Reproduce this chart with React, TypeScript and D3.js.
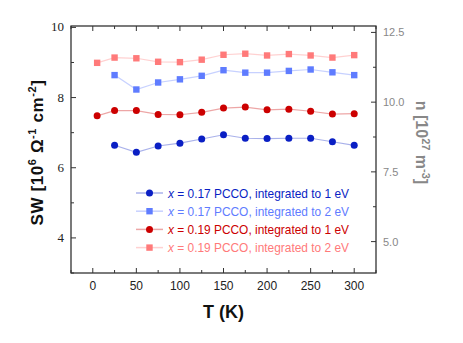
import React from "react";
import * as d3 from "d3";

const temps = [5, 25, 50, 75, 100, 125, 150, 175, 200, 225, 250, 275, 300];
const temps17 = [25, 50, 75, 100, 125, 150, 175, 200, 225, 250, 275, 300];

const sw17_1eV = [6.64, 6.44, 6.62, 6.7, 6.82, 6.94, 6.84, 6.83, 6.84, 6.84, 6.74, 6.64];
const sw17_2eV = [8.64, 8.23, 8.43, 8.52, 8.62, 8.78, 8.71, 8.71, 8.76, 8.8, 8.72, 8.64];
const sw19_1eV = [7.48, 7.63, 7.63, 7.52, 7.51, 7.58, 7.7, 7.73, 7.65, 7.67, 7.61, 7.53, 7.54];
const sw19_2eV = [8.99, 9.14, 9.12, 9.02, 9.01, 9.08, 9.22, 9.25, 9.2, 9.24, 9.2, 9.14, 9.21];

const xTicks = [0, 50, 100, 150, 200, 250, 300];
const leftTicks = [4, 6, 8, 10];
const rightTicks = [5.0, 7.5, 10.0, 12.5];

type Series = {
  x: string;
  eV: string;
  temps: number[];
  values: number[];
  color: string;
  shape: "circle" | "square";
};

const series: Series[] = [
  { x: "0.17", eV: "1", temps: temps17, values: sw17_1eV, color: "#0a1fc4", shape: "circle" },
  { x: "0.17", eV: "2", temps: temps17, values: sw17_2eV, color: "#5f7cff", shape: "square" },
  { x: "0.19", eV: "1", temps: temps, values: sw19_1eV, color: "#cc0000", shape: "circle" },
  { x: "0.19", eV: "2", temps: temps, values: sw19_2eV, color: "#ff7a7a", shape: "square" },
];

const width = 463;
const height = 343;
const margin = { top: 26, right: 87, bottom: 70, left: 71 };

const Marker = ({ s, cx, cy }: { s: Series; cx: number; cy: number }) =>
  s.shape === "circle" ? (
    <circle cx={cx} cy={cy} r={3.5} fill={s.color} />
  ) : (
    <rect x={cx - 3.2} y={cy - 3.2} width={6.4} height={6.4} fill={s.color} />
  );

const App = () => {
  const innerWidth = width - margin.left - margin.right;
  const innerHeight = height - margin.top - margin.bottom;

  const xScale = d3.scaleLinear().domain([-25, 325]).range([0, innerWidth]);
  const yScale = d3.scaleLinear().domain([3, 10.04]).range([innerHeight, 0]);
  const y2Scale = d3.scaleLinear().domain([3.874, 12.73]).range([innerHeight, 0]);

  const line = d3
    .line<[number, number]>()
    .x((d) => xScale(d[0]))
    .y((d) => yScale(d[1]));

  const xMinor = d3.range(-25, 326, 25);
  const leftMinor = d3.range(3, 10.01, 1);
  const rightMinor = d3.range(5, 12.6, 1.25);
  const tickColor = "#333";

  return (
    <svg width={width} height={height} style={{ position: "absolute", left: 0, top: 0 }}>
      <g transform={`translate(${margin.left},${margin.top})`}>
        {/* data lines */}
        {series.map((s, i) => (
          <path
            key={"l" + i}
            d={line(s.temps.map((t, j) => [t, s.values[j]] as [number, number])) || ""}
            fill="none"
            stroke={s.color}
            strokeOpacity={0.35}
            strokeWidth={1.2}
          />
        ))}
        {/* markers */}
        {series.map((s, i) => (
          <g key={"m" + i}>
            {s.temps.map((t, j) => (
              <Marker key={j} s={s} cx={xScale(t)} cy={yScale(s.values[j])} />
            ))}
          </g>
        ))}

        {/* frame */}
        <rect x={0} y={0} width={innerWidth} height={innerHeight} fill="none" stroke="#222" strokeWidth={1.2} />

        {/* x ticks */}
        {xMinor.map((t) => (
          <g key={"xt" + t} transform={`translate(${xScale(t)},0)`}>
            <line y1={innerHeight} y2={innerHeight - (t % 50 === 0 ? 5 : 3)} stroke={tickColor} />
            <line y1={0} y2={t % 50 === 0 ? 5 : 3} stroke={tickColor} />
          </g>
        ))}
        {xTicks.map((t) => (
          <text
            key={"xl" + t}
            x={xScale(t)}
            y={innerHeight + 17}
            textAnchor="middle"
            fontFamily="Liberation Sans, sans-serif"
            fontSize={12}
            fill="#222"
          >
            {t}
          </text>
        ))}

        {/* left ticks */}
        {leftMinor.map((v) => (
          <line
            key={"yl" + v}
            x1={0}
            x2={v % 2 === 0 ? 5 : 3}
            y1={yScale(v)}
            y2={yScale(v)}
            stroke={tickColor}
          />
        ))}
        {leftTicks.map((v) => (
          <text
            key={"ylt" + v}
            x={-7}
            y={yScale(v) + 4}
            textAnchor="end"
            fontFamily="Liberation Serif, serif"
            fontSize={13}
            fill="#222"
          >
            {v}
          </text>
        ))}

        {/* right ticks */}
        {rightMinor.map((v) => (
          <line
            key={"yr" + v}
            x1={innerWidth}
            x2={innerWidth - (Math.abs(v % 2.5) < 0.01 ? 5 : 3)}
            y1={y2Scale(v)}
            y2={y2Scale(v)}
            stroke={tickColor}
          />
        ))}
        {rightTicks.map((v) => (
          <text
            key={"yrt" + v}
            x={innerWidth + 7}
            y={y2Scale(v) + 4}
            textAnchor="start"
            fontFamily="Liberation Sans, sans-serif"
            fontSize={11}
            fill="#888"
          >
            {v.toFixed(1)}
          </text>
        ))}

        {/* legend */}
        {series.map((s, i) => {
          const ly = 167 + i * 18.2;
          return (
            <g key={"lg" + i} transform={`translate(65,${ly})`}>
              <line x1={0} x2={27} y1={0} y2={0} stroke={s.color} strokeOpacity={0.35} strokeWidth={1.5} />
              <Marker s={s} cx={13.5} cy={0} />
              <text
                x={32}
                y={4.5}
                fontFamily="Liberation Sans, sans-serif"
                fontSize={13}
                fill={s.color}
                textLength={181}
                lengthAdjust="spacingAndGlyphs"
              >
                <tspan fontStyle="italic">x</tspan>
                {` = ${s.x} PCCO, integrated to ${s.eV} eV`}
              </text>
            </g>
          );
        })}

        {/* axis titles */}
        <text
          x={innerWidth / 2}
          y={innerHeight + 45}
          textAnchor="middle"
          fontFamily="Liberation Sans, sans-serif"
          fontWeight="bold"
          fontSize={18}
          fill="#111"
        >
          T (K)
        </text>
        <text
          transform={`translate(${-28},${innerHeight / 2 + 3}) rotate(-90)`}
          textAnchor="middle"
          fontFamily="Liberation Sans, sans-serif"
          fontWeight="bold"
          fontSize={17}
          letterSpacing={0.6}
          fill="#111"
        >
          SW [10
          <tspan dy={-7} fontSize={11}>6</tspan>
          <tspan dy={7}> Ω</tspan>
          <tspan dy={-7} fontSize={11}>-1</tspan>
          <tspan dy={7}> cm</tspan>
          <tspan dy={-7} fontSize={11}>-2</tspan>
          <tspan dy={7}>]</tspan>
        </text>
        <text
          transform={`translate(${innerWidth + 40},${innerHeight / 2 - 7}) rotate(90)`}
          textAnchor="middle"
          fontFamily="Liberation Sans, sans-serif"
          fontWeight="bold"
          fontSize={16}
          fill="#888"
        >
          n [10
          <tspan dy={-6} fontSize={11}>27</tspan>
          <tspan dy={6}> m</tspan>
          <tspan dy={-6} fontSize={11}>-3</tspan>
          <tspan dy={6}>]</tspan>
        </text>
      </g>
    </svg>
  );
};

export default App;
